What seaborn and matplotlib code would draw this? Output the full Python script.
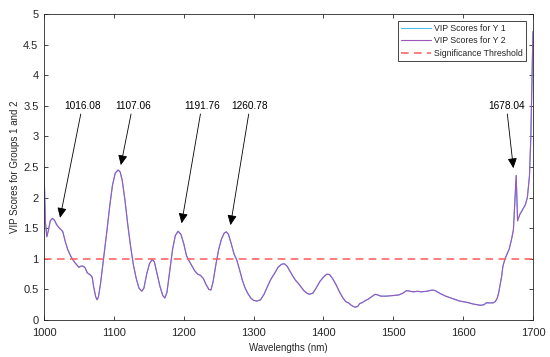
import matplotlib
matplotlib.use("Agg")
import matplotlib.pyplot as plt
from matplotlib.ticker import FuncFormatter, MultipleLocator
import seaborn as sns
import pandas as pd

wavelengths = [1000, 1002, 1004, 1006, 1009, 1012, 1015, 1018, 1022, 1025, 1027, 1030, 1034, 1038,
               1041, 1044, 1047, 1050, 1053, 1056, 1059, 1062, 1066, 1069, 1071, 1074, 1076, 1078,
               1081, 1084, 1087, 1090, 1094, 1098, 1102, 1106, 1109, 1112, 1116, 1120, 1124, 1128,
               1132, 1136, 1140, 1143, 1147, 1151, 1155, 1158, 1162, 1166, 1170, 1173, 1176, 1180,
               1184, 1188, 1192, 1196, 1200, 1204, 1208, 1212, 1216, 1220, 1224, 1228, 1232, 1236,
               1239, 1242, 1246, 1250, 1254, 1258, 1261, 1264, 1268, 1272, 1276, 1280, 1284, 1288,
               1292, 1296, 1300, 1305, 1310, 1315, 1320, 1325, 1330, 1335, 1340, 1344, 1348, 1352,
               1356, 1360, 1364, 1368, 1372, 1376, 1380, 1385, 1390, 1395, 1400, 1405, 1409, 1413,
               1418, 1423, 1428, 1432, 1436, 1440, 1445, 1449, 1452, 1455, 1459, 1464, 1469, 1474,
               1478, 1482, 1490, 1500, 1508, 1514, 1519, 1524, 1529, 1535, 1540, 1548, 1556, 1560,
               1566, 1575, 1585, 1595, 1605, 1615, 1625, 1630, 1633, 1638, 1643, 1646, 1649, 1651,
               1653, 1655, 1657, 1660, 1663, 1666, 1669, 1672, 1674, 1676, 1678, 1681, 1685, 1689,
               1692, 1695, 1697, 1699, 1700]
vip_y2 = [2.48, 1.60, 1.36, 1.45, 1.62, 1.66, 1.63, 1.56, 1.50, 1.47, 1.44, 1.30, 1.15, 1.05,
          0.99, 0.94, 0.90, 0.86, 0.88, 0.88, 0.85, 0.77, 0.74, 0.70, 0.55, 0.38, 0.33, 0.38,
          0.60, 0.88, 1.15, 1.45, 1.85, 2.20, 2.40, 2.45, 2.42, 2.28, 1.95, 1.55, 1.20, 0.90,
          0.68, 0.52, 0.47, 0.52, 0.75, 0.92, 0.99, 0.95, 0.75, 0.55, 0.40, 0.36, 0.45, 0.80,
          1.15, 1.38, 1.45, 1.40, 1.25, 1.05, 0.96, 0.88, 0.80, 0.75, 0.73, 0.68, 0.58, 0.50,
          0.49, 0.62, 0.90, 1.15, 1.32, 1.42, 1.44, 1.40, 1.25, 1.08, 0.98, 0.82, 0.65, 0.52,
          0.43, 0.36, 0.32, 0.31, 0.33, 0.42, 0.55, 0.67, 0.76, 0.86, 0.91, 0.92, 0.88, 0.80,
          0.72, 0.65, 0.60, 0.54, 0.48, 0.44, 0.42, 0.44, 0.53, 0.63, 0.70, 0.75, 0.74, 0.68,
          0.58, 0.46, 0.36, 0.30, 0.28, 0.24, 0.21, 0.22, 0.27, 0.28, 0.31, 0.34, 0.38, 0.42,
          0.41, 0.39, 0.39, 0.40, 0.41, 0.44, 0.48, 0.47, 0.46, 0.47, 0.46, 0.47, 0.49, 0.48,
          0.44, 0.39, 0.35, 0.31, 0.29, 0.26, 0.24, 0.25, 0.28, 0.28, 0.28, 0.30, 0.36, 0.45,
          0.58, 0.70, 0.88, 1.00, 1.08, 1.16, 1.30, 1.47, 1.90, 2.36, 1.62, 1.72, 1.80, 1.88,
          2.00, 2.35, 3.00, 4.10, 4.71]
vip_y1 = list(vip_y2)
threshold = 1.0

peak_labels = ["1016.08", "1107.06", "1191.76", "1260.78", "1678.04"]
label_x = [1055, 1127, 1226, 1295, 1662]
label_y = [3.5, 3.5, 3.5, 3.5, 3.5]
tip_x = [1023, 1110, 1197, 1267, 1672]
tip_y = [1.67, 2.53, 1.58, 1.55, 2.48]

x_ticks = [1000, 1100, 1200, 1300, 1400, 1500, 1600, 1700]

df = pd.DataFrame({"Wavelength": wavelengths, "Y1": vip_y1, "Y2": vip_y2})

sns.set_style("ticks")
plt.rcParams["font.family"] = ["Liberation Sans", "DejaVu Sans"]

fig = plt.figure(figsize=(5.5, 3.57), dpi=100)
ax = fig.add_axes([0.08, 0.1036, 0.889, 0.8574])

sns.lineplot(data=df, x="Wavelength", y="Y1", ax=ax, color="#4DBEEE", lw=0.8,
             label="VIP Scores for Y 1", estimator=None, sort=False)
sns.lineplot(data=df, x="Wavelength", y="Y2", ax=ax, color="#9E55BE", lw=0.8,
             label="VIP Scores for Y 2", estimator=None, sort=False)
ax.axhline(threshold, color="#FF5A5A", lw=1.1, ls=(0, (5, 3.5)), label="Significance Threshold")

for lab, lx, ly, tx, ty in zip(peak_labels, label_x, label_y, tip_x, tip_y):
    ax.annotate(lab, xy=(tx, ty), xytext=(lx, ly), ha="center", va="center", fontsize=7.3,
                color="black",
                arrowprops=dict(arrowstyle="-|>,head_length=0.6,head_width=0.28", color="black",
                                lw=0.6, shrinkA=0, shrinkB=0, mutation_scale=10))

ax.set_xlim(1000, 1700)
ax.set_ylim(0, 5)
ax.set_xticks(x_ticks)
ax.yaxis.set_major_locator(MultipleLocator(0.5))
ax.yaxis.set_major_formatter(FuncFormatter(lambda v, p: f"{v:g}"))
ax.set_xlabel("Wavelengths (nm)", fontsize=7, labelpad=3)
ax.set_ylabel("VIP Scores for Groups 1 and 2", fontsize=7, labelpad=2)
ax.tick_params(direction="in", top=True, right=True, length=3, width=0.6,
               labelsize=8, colors="#262626")
ax.tick_params(axis="x", pad=6)
ax.tick_params(axis="y", pad=4)
for s in ax.spines.values():
    s.set_visible(True)
    s.set_linewidth(0.6)
    s.set_color("#262626")

leg = ax.legend(loc="upper right", fontsize=6.3, frameon=True, fancybox=False,
                edgecolor="#262626", framealpha=1, handlelength=3.4, borderpad=0.35,
                labelspacing=0.4, handletextpad=0.4, borderaxespad=0.8)
leg.get_frame().set_linewidth(0.6)

fig.savefig("out.png", dpi=100)
